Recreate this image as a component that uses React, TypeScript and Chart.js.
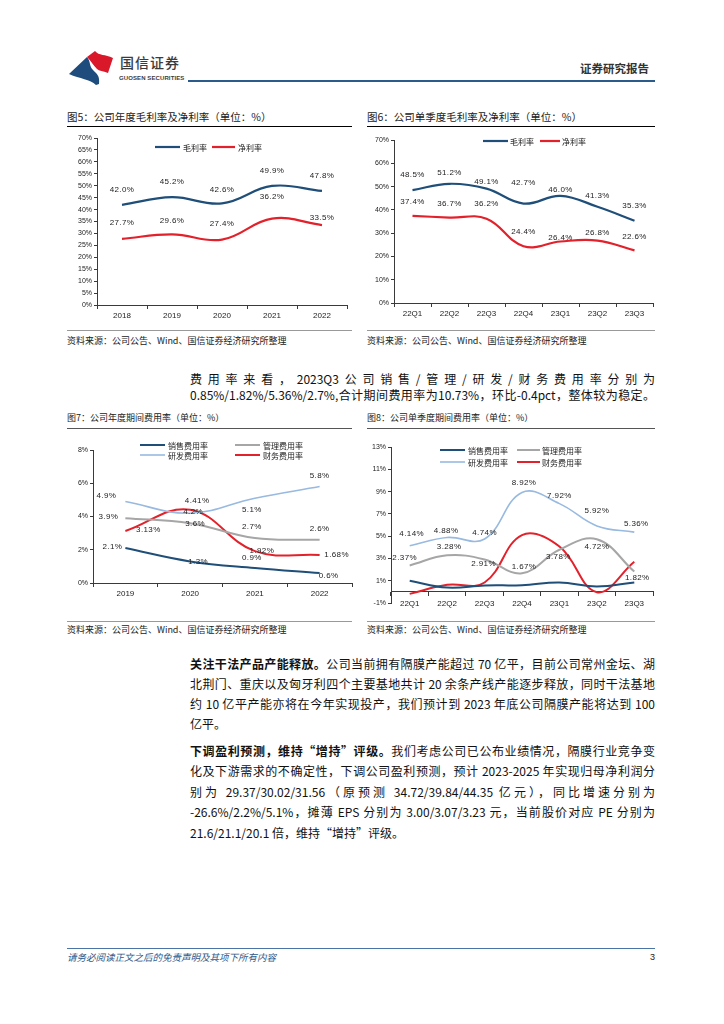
import React, { useEffect, useRef } from 'react';
import { Chart, registerables } from 'chart.js';

Chart.register(...registerables);

// ---------- Data ----------
const YEARS_5 = ['2018', '2019', '2020', '2021', '2022'];
const GROSS_5 = [42.0, 45.2, 42.6, 49.9, 47.8];
const NET_5 = [27.7, 29.6, 27.4, 36.2, 33.5];
const Y_TICKS_5 = [0, 5, 10, 15, 20, 25, 30, 35, 40, 45, 50, 55, 60, 65, 70];

const QUARTERS = ['22Q1', '22Q2', '22Q3', '22Q4', '23Q1', '23Q2', '23Q3'];
const GROSS_6 = [48.5, 51.2, 49.1, 42.7, 46.0, 41.3, 35.3];
const NET_6 = [37.4, 36.7, 36.2, 24.4, 26.4, 26.8, 22.6];
const Y_TICKS_6 = [0, 10, 20, 30, 40, 50, 60, 70];

const YEARS_7 = ['2019', '2020', '2021', '2022'];
const SALES_7 = [2.1, 1.3, 0.9, 0.6];
const ADMIN_7 = [3.9, 3.6, 2.7, 2.6];
const RD_7 = [4.9, 4.2, 5.1, 5.8];
const FIN_7 = [3.13, 4.41, 1.92, 1.68];
const Y_TICKS_7 = [0, 2, 4, 6, 8];

const SALES_8 = [1.0, 0.38, 0.57, 0.6, 0.84, 0.48, 0.85];
const ADMIN_8 = [2.37, 3.28, 2.91, 1.67, 3.78, 4.72, 1.82];
const RD_8 = [4.14, 4.88, 4.74, 8.92, 7.92, 5.92, 5.36];
const FIN_8 = [-0.18, 0.63, 0.84, 5.1, 4.07, -0.03, 2.7];
const Y_TICKS_8 = [-1, 1, 3, 5, 7, 9, 11, 13];

const GROSS_NAME = '毛利率';
const NET_NAME = '净利率';
const SALES_NAME = '销售费用率';
const ADMIN_NAME = '管理费用率';
const RD_NAME = '研发费用率';
const FIN_NAME = '财务费用率';

// ---------- Styles ----------
const C_NAVY = '#1F4E79';
const C_RED = '#E3212B';
const C_GREY = '#A6A6A6';
const C_LIGHT = '#98B9E0';
const AXIS = '#3a3a3a';
const TXT = '#222222';
const LATIN = '"Liberation Sans", Arial, sans-serif';
const CJK = '"Noto Sans CJK SC", "Liberation Sans", sans-serif';

// label offsets [dx, dy] relative to each point
const OFF_5_GROSS = [[0, -15], [0, -15], [0, -14], [0, -15], [0, -15]];
const OFF_5_NET = [[0, -16], [0, -14], [0, -16], [0, -22], [0, -7]];
const OFF_6_GROSS = [[0, -15], [0, -11], [0, -7], [0, -21], [0, -6], [0, -11], [0, -15]];
const OFF_6_NET = [[0, -14], [0, -14], [0, -15], [0, -14], [0, -4], [0, -8], [0, -14]];
const OFF_7_RD = [[-19, -6], [3, -1], [-3, 12], [0, -11]];
const OFF_7_FIN = [[23, -1], [7, -9], [7, 0], [17, 0]];
const OFF_7_ADMIN = [[-17, -1], [5, 1], [-3, -11], [0, -11]];
const OFF_7_SALES = [[-13, -1], [8, 0], [-3, -10], [9, 3]];
const OFF_8_RD = [[2, -12], [-1, -7], [0, -6], [2, -10], [0, -8], [0, -15], [2, -8]];
const OFF_8_ADMIN = [[-5, -8], [2, -9], [-1, 4], [2, -6], [-1, 7], [0, 8], [3, 6]];

// ---------- Plugins ----------
const pointLabels = {
  id: 'pointLabels',
  afterDatasetsDraw(chart: any, _a: any, opts: any) {
    const ctx = chart.ctx;
    ctx.save();
    ctx.font = opts.font;
    ctx.fillStyle = opts.color;
    ctx.textAlign = 'center';
    ctx.textBaseline = 'middle';
    try { (ctx as any).letterSpacing = '0.4px'; } catch (e) { /* ignore */ }
    (opts.items || []).forEach((it: any) => {
      const meta = chart.getDatasetMeta(it.ds);
      const vals = chart.data.datasets[it.ds].data;
      meta.data.forEach((el: any, i: number) => {
        const off = it.offsets[i] || [0, -12];
        ctx.fillText(Number(vals[i]).toFixed(it.dec) + '%', el.x + off[0], el.y + off[1]);
      });
    });
    ctx.restore();
  },
};

const lineLegend = {
  id: 'lineLegend',
  afterDraw(chart: any, _a: any, opts: any) {
    const ctx = chart.ctx;
    ctx.save();
    ctx.font = opts.font;
    ctx.fillStyle = opts.color;
    ctx.textAlign = 'left';
    ctx.textBaseline = 'middle';
    (opts.items || []).forEach((it: any) => {
      const ds = chart.data.datasets[it.ds];
      ctx.strokeStyle = ds.borderColor;
      ctx.lineWidth = ds.borderWidth;
      ctx.beginPath();
      ctx.moveTo(it.x1, it.y);
      ctx.lineTo(it.x2, it.y);
      ctx.stroke();
      ctx.fillText(ds.label, it.tx, it.y + 0.5);
    });
    ctx.restore();
  },
};

function makeConfig(p: any) {
  const xScale: any = {
    type: 'category',
    offset: true,
    afterFit: (s: any) => { s.height = p.xHeight; },
    border: { display: true, color: AXIS, width: 1 },
    grid: { offset: true, drawOnChartArea: false, drawTicks: true, tickLength: 4, color: AXIS },
    ticks: { font: { family: LATIN, size: 8 }, color: TXT, padding: p.xPad, maxRotation: 0, autoSkip: false },
  };
  if (p.xAtZero) xScale.position = { y: 0 };
  return {
    type: 'line',
    data: {
      labels: p.labels,
      datasets: p.datasets.map((d: any) => ({
        label: d.label,
        data: d.data,
        borderColor: d.color,
        backgroundColor: d.color,
        borderWidth: d.width,
        pointRadius: 0,
        tension: 0.4,
        fill: false,
        clip: false,
      })),
    },
    options: {
      responsive: false,
      animation: false,
      devicePixelRatio: 1,
      layout: { padding: p.padding },
      plugins: {
        legend: { display: false },
        tooltip: { enabled: false },
        pointLabels: { font: `8px ${LATIN}`, color: TXT, items: p.labelItems },
        lineLegend: { font: `8px ${CJK}`, color: TXT, items: p.legendItems },
      },
      scales: {
        x: xScale,
        y: {
          type: 'linear',
          min: p.yTicks[0],
          max: p.yTicks[p.yTicks.length - 1],
          afterBuildTicks: (s: any) => { s.ticks = p.yTicks.map((v: number) => ({ value: v })); },
          afterFit: (s: any) => { s.width = p.yWidth; },
          border: { display: true, color: AXIS, width: 1 },
          grid: { drawOnChartArea: false, drawTicks: true, tickLength: 3, color: AXIS },
          ticks: { font: { family: LATIN, size: 7 }, color: TXT, padding: 2, callback: (v: any) => `${v}%` },
        },
      },
    },
    plugins: [pointLabels, lineLegend],
  };
}

function LineChart({ left, top, width, height, params }: any) {
  const ref = useRef<HTMLCanvasElement>(null);
  useEffect(() => {
    const chart = new Chart(ref.current as HTMLCanvasElement, makeConfig(params) as any);
    return () => chart.destroy();
  }, []);
  return (
    <div style={{ position: 'absolute', left, top, width, height }}>
      <canvas ref={ref} width={width} height={height} style={{ width, height, display: 'block' }} />
    </div>
  );
}

const chart5 = {
  labels: YEARS_5,
  datasets: [
    { label: GROSS_NAME, data: GROSS_5, color: C_NAVY, width: 2.2 },
    { label: NET_NAME, data: NET_5, color: C_RED, width: 2.2 },
  ],
  yTicks: Y_TICKS_5,
  yWidth: 35,
  xHeight: 15,
  xPad: 2,
  padding: { left: 0, right: 5, top: 8, bottom: 0 },
  labelItems: [
    { ds: 0, dec: 1, offsets: OFF_5_GROSS },
    { ds: 1, dec: 1, offsets: OFF_5_NET },
  ],
  legendItems: [
    { ds: 0, x1: 93, x2: 118, y: 17, tx: 121 },
    { ds: 1, x1: 150, x2: 173, y: 17, tx: 176 },
  ],
};

const chart6 = {
  labels: QUARTERS,
  datasets: [
    { label: GROSS_NAME, data: GROSS_6, color: C_NAVY, width: 2.2 },
    { label: NET_NAME, data: NET_6, color: C_RED, width: 2.2 },
  ],
  yTicks: Y_TICKS_6,
  yWidth: 32,
  xHeight: 17,
  xPad: 2,
  padding: { left: 0, right: 4, top: 10, bottom: 0 },
  labelItems: [
    { ds: 0, dec: 1, offsets: OFF_6_GROSS },
    { ds: 1, dec: 1, offsets: OFF_6_NET },
  ],
  legendItems: [
    { ds: 0, x1: 121, x2: 146, y: 11, tx: 148 },
    { ds: 1, x1: 178, x2: 198, y: 11, tx: 200 },
  ],
};

const chart7 = {
  labels: YEARS_7,
  datasets: [
    { label: SALES_NAME, data: SALES_7, color: C_NAVY, width: 2 },
    { label: ADMIN_NAME, data: ADMIN_7, color: C_GREY, width: 2 },
    { label: RD_NAME, data: RD_7, color: C_LIGHT, width: 1.6 },
    { label: FIN_NAME, data: FIN_7, color: C_RED, width: 2 },
  ],
  yTicks: Y_TICKS_7,
  yWidth: 31,
  xHeight: 24,
  xPad: 2,
  padding: { left: 0, right: 5, top: 18, bottom: 0 },
  labelItems: [
    { ds: 0, dec: 1, offsets: OFF_7_SALES },
    { ds: 1, dec: 1, offsets: OFF_7_ADMIN },
    { ds: 2, dec: 1, offsets: OFF_7_RD },
    { ds: 3, dec: 2, offsets: OFF_7_FIN },
  ],
  legendItems: [
    { ds: 0, x1: 78, x2: 103, y: 13, tx: 106 },
    { ds: 1, x1: 173, x2: 198, y: 13, tx: 201 },
    { ds: 2, x1: 78, x2: 103, y: 23, tx: 106 },
    { ds: 3, x1: 173, x2: 198, y: 23, tx: 201 },
  ],
};

const chart8 = {
  labels: QUARTERS,
  datasets: [
    { label: SALES_NAME, data: SALES_8, color: C_NAVY, width: 2 },
    { label: ADMIN_NAME, data: ADMIN_8, color: C_GREY, width: 2 },
    { label: RD_NAME, data: RD_8, color: C_LIGHT, width: 1.6 },
    { label: FIN_NAME, data: FIN_8, color: C_RED, width: 2 },
  ],
  yTicks: Y_TICKS_8,
  yWidth: 29,
  xHeight: 0,
  xPad: 3,
  xAtZero: true,
  padding: { left: 0, right: 4, top: 15, bottom: 9 },
  labelItems: [
    { ds: 1, dec: 2, offsets: OFF_8_ADMIN },
    { ds: 2, dec: 2, offsets: OFF_8_RD },
  ],
  legendItems: [
    { ds: 0, x1: 78, x2: 103, y: 18, tx: 106 },
    { ds: 1, x1: 155, x2: 178, y: 18, tx: 180 },
    { ds: 2, x1: 78, x2: 103, y: 30, tx: 106 },
    { ds: 3, x1: 155, x2: 178, y: 30, tx: 180 },
  ],
};

// ---------- Page pieces ----------
const T = ({ x, cy, size, lh, children, style }: any) => (
  <div
    style={{
      position: 'absolute',
      left: x,
      top: cy - lh / 2,
      height: lh,
      lineHeight: `${lh}px`,
      fontSize: size,
      whiteSpace: 'nowrap',
      fontFamily: CJK,
      color: TXT,
      ...style,
    }}
  >
    {children}
  </div>
);

const Rule = ({ x, y, w, h = 1, color = '#000' }: any) => (
  <div style={{ position: 'absolute', left: x, top: y, width: w, height: h, background: color }} />
);

const BodyLine = ({ cy, children, last }: any) => (
  <div
    style={{
      position: 'absolute',
      left: 190,
      top: cy - 10,
      width: 465,
      height: 20,
      lineHeight: '20px',
      fontSize: 12,
      fontFamily: CJK,
      color: '#111',
      textAlign: 'justify',
      textAlignLast: last ? 'left' : 'justify',
      whiteSpace: 'nowrap',
    } as any}
  >
    {children}
  </div>
);

const SOURCE = '资料来源：公司公告、Wind、国信证券经济研究所整理';

export default function App() {
  return (
    <div
      style={{
        position: 'absolute',
        left: 0,
        top: 0,
        width: 724,
        height: 1024,
        background: '#fff',
        overflow: 'hidden',
        fontFamily: CJK,
      }}
    >
      {/* Header */}
      <svg style={{ position: 'absolute', left: 66, top: 48 }} width={50} height={38} viewBox="0 0 50 38">
        <path d="M3,26 L21,9 C25,14 23,18 27,22 C31,26 34,28 33,36 L30,37 C24,31 14,31 3,26 Z" fill="#1E4C7C" />
        <path d="M21,9 L29,3 C33,8 39,6 47,10 L42,25 C37,23 33,23 31,21 C27,17 25,13 21,9 Z" fill="#D9182A" />
      </svg>
      <T x={120} cy={62} size={14} lh={18} style={{ color: '#3b3b3b', fontWeight: 500, letterSpacing: 1 }}>国信证券</T>
      <T x={119} cy={77.5} size={6} lh={8} style={{ fontFamily: LATIN, fontWeight: 700, color: '#3b3b3b', letterSpacing: 0.1 }}>GUOSEN SECURITIES</T>
      <T x={580} cy={68} size={11.5} lh={14} style={{ fontWeight: 700, color: '#333' }}>证券研究报告</T>
      <Rule x={188} y={80} w={467} h={2} color="#2B5A8C" />

      {/* Figure 5 & 6 titles */}
      <T x={67} cy={117} size={10.5} lh={14}>图5：公司年度毛利率及净利率（单位：%）</T>
      <Rule x={67} y={126} w={285} />
      <T x={367} cy={117} size={10.5} lh={14}>图6：公司单季度毛利率及净利率（单位：%）</T>
      <Rule x={367} y={126} w={288} />

      <LineChart left={62} top={130} width={290} height={190} params={chart5} />
      <LineChart left={362} top={130} width={295} height={190} params={chart6} />

      <Rule x={67} y={330} w={285} color="#999" />
      <Rule x={367} y={330} w={288} color="#999" />
      <T x={67} cy={341} size={9} lh={12}>{SOURCE}</T>
      <T x={367} cy={341} size={9} lh={12}>{SOURCE}</T>

      {/* middle paragraph */}
      <BodyLine cy={379}>费用率来看，2023Q3公司销售/管理/研发/财务费用率分别为</BodyLine>
      <BodyLine cy={395}>0.85%/1.82%/5.36%/2.7%,合计期间费用率为10.73%，环比-0.4pct，整体较为稳定。</BodyLine>

      {/* Figure 7 & 8 titles */}
      <T x={67} cy={418} size={9} lh={12}>图7：公司年度期间费用率（单位：%）</T>
      <Rule x={67} y={428} w={285} color="#555" />
      <T x={367} cy={418} size={9} lh={12}>图8：公司单季度期间费用率（单位：%）</T>
      <Rule x={367} y={428} w={288} color="#555" />

      <LineChart left={62} top={432} width={295} height={175} params={chart7} />
      <LineChart left={362} top={432} width={295} height={180} params={chart8} />

      <Rule x={67} y={621} w={285} color="#999" />
      <Rule x={367} y={621} w={288} color="#999" />
      <T x={67} cy={630} size={9} lh={12}>{SOURCE}</T>
      <T x={367} cy={630} size={9} lh={12}>{SOURCE}</T>

      {/* Body */}
      <BodyLine cy={664}><b>关注干法产品产能释放。</b>公司当前拥有隔膜产能超过 70 亿平，目前公司常州金坛、湖</BodyLine>
      <BodyLine cy={684}>北荆门、重庆以及匈牙利四个主要基地共计 20 余条产线产能逐步释放，同时干法基地</BodyLine>
      <BodyLine cy={704}>约 10 亿平产能亦将在今年实现投产，我们预计到 2023 年底公司隔膜产能将达到 100</BodyLine>
      <BodyLine cy={724} last>亿平。</BodyLine>

      <BodyLine cy={751}><b>下调盈利预测，维持“增持”评级。</b>我们考虑公司已公布业绩情况，隔膜行业竞争变</BodyLine>
      <BodyLine cy={771}>化及下游需求的不确定性，下调公司盈利预测，预计 2023-2025 年实现归母净利润分</BodyLine>
      <BodyLine cy={792}>别为 29.37/30.02/31.56（原预测 34.72/39.84/44.35 亿元），同比增速分别为</BodyLine>
      <BodyLine cy={812}>-26.6%/2.2%/5.1%，摊薄 EPS 分别为 3.00/3.07/3.23 元，当前股价对应 PE 分别为</BodyLine>
      <BodyLine cy={833} last>21.6/21.1/20.1 倍，维持“增持”评级。</BodyLine>

      {/* Footer */}
      <Rule x={67} y={948} w={588} color="#4A74A6" />
      <T x={67} cy={957} size={9.5} lh={12} style={{ fontStyle: 'italic', color: '#2C5A8C' }}>请务必阅读正文之后的免责声明及其项下所有内容</T>
      <T x={645} cy={957} size={9} lh={12} style={{ fontFamily: LATIN, width: 10, textAlign: 'right' }}>3</T>
    </div>
  );
}
